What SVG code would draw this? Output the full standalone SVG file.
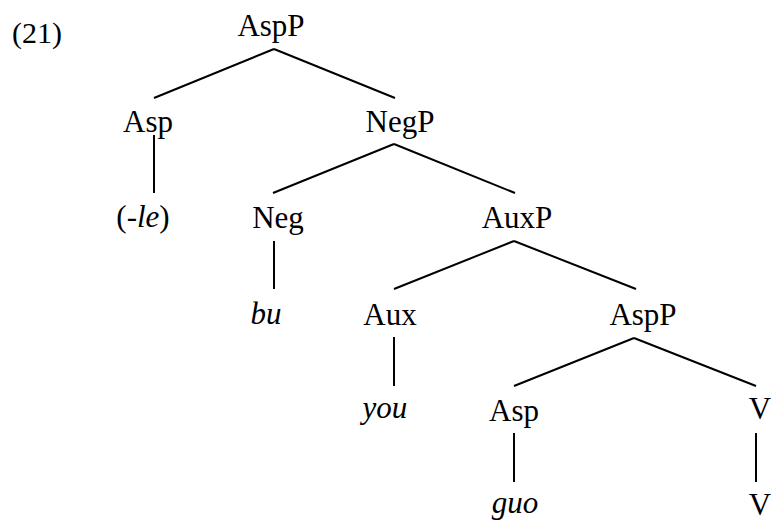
<svg xmlns="http://www.w3.org/2000/svg" width="771" height="522" viewBox="0 0 771 522">
<style>
text{font-family:"Liberation Serif","Times New Roman",serif;font-size:31px;fill:#000;text-anchor:middle}
.i{font-style:italic}
#edges line{stroke:#000;stroke-width:2;stroke-linecap:butt}
</style>
<rect width="771" height="522" fill="#fff"/>
<text x="37" y="43" style="font-size:30px">(21)</text>
<g id="edges">
<line x1="274" y1="49" x2="154" y2="98"/>
<line x1="274" y1="49" x2="395" y2="98"/>
<line x1="154" y1="135" x2="154" y2="193"/>
<line x1="394" y1="144" x2="273" y2="193"/>
<line x1="394" y1="144" x2="515" y2="193"/>
<line x1="274" y1="241" x2="274" y2="289"/>
<line x1="514" y1="241" x2="394" y2="289"/>
<line x1="514" y1="241" x2="636" y2="289"/>
<line x1="394" y1="337" x2="394" y2="386"/>
<line x1="634" y1="338" x2="514" y2="386"/>
<line x1="634" y1="338" x2="756" y2="386"/>
<line x1="514" y1="433" x2="514" y2="482"/>
<line x1="756" y1="433" x2="756" y2="482"/>
</g>
<g id="n-aspp1"><text x="271" y="36">AspP</text></g>
<g id="n-asp1"><text x="148" y="132">Asp</text></g>
<g id="n-le"><text x="143" y="227">(-<tspan class="i">le</tspan>)</text></g>
<g id="n-negp"><text x="400" y="132">NegP</text></g>
<g id="n-neg"><text x="278" y="228">Neg</text></g>
<g id="n-bu"><text class="i" x="266" y="324">bu</text></g>
<g id="n-auxp"><text x="517" y="228">AuxP</text></g>
<g id="n-aux"><text x="390" y="325">Aux</text></g>
<g id="n-you"><text class="i" x="385" y="418">you</text></g>
<g id="n-aspp2"><text x="643" y="325">AspP</text></g>
<g id="n-asp2"><text x="514" y="421">Asp</text></g>
<g id="n-guo"><text class="i" x="515" y="513">guo</text></g>
<g id="n-v1"><text x="760" y="419">V</text></g>
<g id="n-v2"><text x="760" y="515">V</text></g>
</svg>
